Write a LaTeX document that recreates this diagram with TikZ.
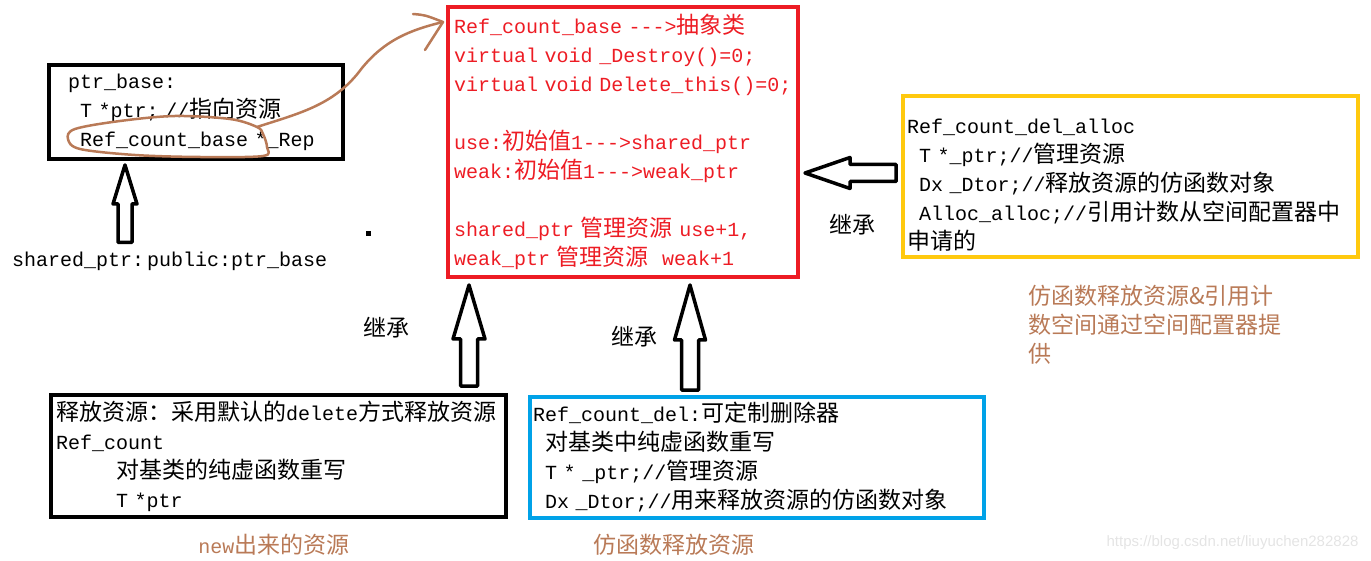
\documentclass[tikz,border=0pt]{standalone}
\usepackage{fontspec}
\setmonofont{Liberation Mono}
\newfontfamily\cjk{Noto Sans CJK SC}
\newfontfamily\wmfont{Liberation Sans}
\usetikzlibrary{calc}

\definecolor{paintred}{HTML}{ED1C24}
\definecolor{paintgold}{HTML}{FFC90E}
\definecolor{paintblue}{HTML}{00A2E8}
\definecolor{paintbrown}{HTML}{B97A57}
\definecolor{markgray}{HTML}{E4E4E4}

% Chinese text in the CJK face
\newcommand\zh[1]{{\cjk\fontsize{23}{29}\selectfont #1}}
% no hyphenation in code lines
\newcommand\codetext{\hyphenpenalty10000\relax}
% hollow block arrow: tail, tip, head length, head half width, shaft half width
\newcommand\hollowarrow[5]{%
  \path (#2) coordinate (ha-tip) ($(#2)!#3!(#1)$) coordinate (ha-base);
  \draw[hollow] ($(#1)!#5!90:(#2)$) -- ($(ha-base)!#5!90:(ha-tip)$) -- ($(ha-base)!#4!90:(ha-tip)$) -- (ha-tip)
    -- ($(ha-base)!#4!-90:(ha-tip)$) -- ($(ha-base)!#5!-90:(ha-tip)$) -- ($(#1)!#5!-90:(#2)$) -- cycle;}

\begin{document}
\begin{tikzpicture}[x=1pt, y=-1pt,
    font=\ttfamily\fontsize{20}{29}\selectfont\codetext,
    codebox/.style={draw, line width=4pt, anchor=north west, align=left, inner ysep=0pt},
    hollow/.style={draw=black, fill=white, line width=3.5pt, line join=round},
    scribble/.style={draw=paintbrown, line width=2.5pt, line cap=round, line join=round},
    note/.style={text=paintbrown}]
  \useasboundingbox (0,0) rectangle (1371,561);

  % classes
  \node[codebox, minimum width=294pt, minimum height=94pt, text width=256pt, inner xsep=19pt] (ptrbase) at (47,63)
    {ptr\_base:\\
     \hspace*{12pt}T *ptr; //\zh{指向资源}\\
     \hspace*{12pt}Ref\_count\_base *\_Rep};
  \node[codebox, draw=paintred, text=paintred, minimum width=350pt, minimum height=270pt, text width=338pt, inner xsep=6pt] (refbase) at (446,5)
    {Ref\_count\_base --->\zh{抽象类}\\
     virtual void \_Destroy()=0;\\
     virtual~void~Delete\_this()=0;\\[29pt]
     use:\zh{初始值}1--->shared\_ptr\\
     weak:\zh{初始值}1--->weak\_ptr\\[29pt]
     shared\_ptr \zh{管理资源} use+1,\\
     weak\_ptr \zh{管理资源}~~weak+1};
  \node[codebox, draw=paintgold, minimum width=455pt, minimum height=161pt, text width=447pt, inner xsep=4pt] (delalloc) at (901,94)
    {\rule{0pt}{32pt}Ref\_count\_del\_alloc\\
     \hspace*{12pt}T *\_ptr;//\zh{管理资源}\\
     \hspace*{12pt}Dx \_Dtor;//\zh{释放资源的仿函数对象}\\
     \hspace*{12pt}Alloc\_alloc;//\zh{引用计数从空间配置器中}\\
     \zh{申请的}};
  \node[codebox, minimum width=455pt, minimum height=122pt, text width=445pt, inner xsep=5pt] (refcount) at (49,393)
    {\zh{释放资源：采用默认的}delete\zh{方式释放资源}\\
     Ref\_count\\
     \hspace*{60pt}\zh{对基类的纯虚函数重写}\\
     \hspace*{60pt}T *ptr};
  \node[codebox, draw=paintblue, minimum width=454pt, minimum height=121pt, text width=448pt, inner xsep=3pt] (refdel) at (528,395)
    {Ref\_count\_del:\zh{可定制删除器}\\
     \hspace*{12pt}\zh{对基类中纯虚函数重写}\\
     \hspace*{12pt}T * \_ptr;//\zh{管理资源}\\
     \hspace*{12pt}Dx~\_Dtor;//\zh{用来释放资源的仿函数对象}};

  % labels
  \node[anchor=west, inner sep=0pt] (sharedlbl) at (12,261) {shared\_ptr:\hspace{3pt}public:ptr\_base};
  \node (inh1) at (852,225) {\zh{继承}};
  \node (inh2) at (386,328) {\zh{继承}};
  \node (inh3) at (634,337) {\zh{继承}};
  \node[note] (newres) at (274,545) {new\zh{出来的资源}};
  \node[note] (functor) at (674,545) {\zh{仿函数释放资源}};
  \node[note, anchor=north west, align=left, inner sep=0pt] (allocnote) at (1028,285)
    {\zh{仿函数释放资源\&引用计}\\ \zh{数空间通过空间配置器提}\\ \zh{供}};
  \node[text=markgray, font=\wmfont\fontsize{15}{18}\selectfont, anchor=east] (wm) at (1362,543) {https://blog.csdn.net/liuyuchen282828};
  \fill (366,231) rectangle (371,236);

  % inheritance arrows
  \coordinate (ax) at (125,0);
  \coordinate (bx) at (469,0);
  \coordinate (cx) at (690,0);
  \coordinate (dy) at (0,173);
  \coordinate (atail) at ($(sharedlbl.north -| ax)+(0,-9)$);
  \coordinate (atip) at ($(ptrbase.south -| ax)+(0,4)$);
  \hollowarrow{atail}{atip}{39pt}{12pt}{7pt}
  \coordinate (btail) at ($(refcount.north -| bx)+(0,-7)$);
  \coordinate (btip) at ($(refbase.south -| bx)+(0,6)$);
  \hollowarrow{btail}{btip}{54pt}{16pt}{8.5pt}
  \coordinate (ctail) at ($(refdel.north -| cx)+(0,-5)$);
  \coordinate (ctip) at ($(refbase.south -| cx)+(0,6)$);
  \hollowarrow{ctail}{ctip}{55pt}{15.5pt}{8.5pt}
  \coordinate (dtail) at ($(delalloc.west |- dy)+(-5,0)$);
  \coordinate (dtip) at ($(refbase.east |- dy)+(5,0)$);
  \hollowarrow{dtail}{dtip}{45pt}{15.5pt}{8.5pt}

  % hand-drawn mark
  \coordinate (loop) at (257,127);
  \coordinate (hook) at ($(refbase.north west)+(-3,17)$);
  \draw[scribble] plot[smooth cycle, tension=0.55] coordinates {(257,127) (230,119) (175,116) (120,121) (75,129) (68,139) (80,149) (135,155) (200,157) (263,156) (267,147) (263,134)};
  \draw[scribble] (loop) .. controls (300,113) and (335,105) .. (362,68) .. controls (385,40) and (410,30) .. (hook);
  \draw[scribble] (413,14) .. controls (425,15) .. (hook) -- (425,50);
\end{tikzpicture}
\end{document}
